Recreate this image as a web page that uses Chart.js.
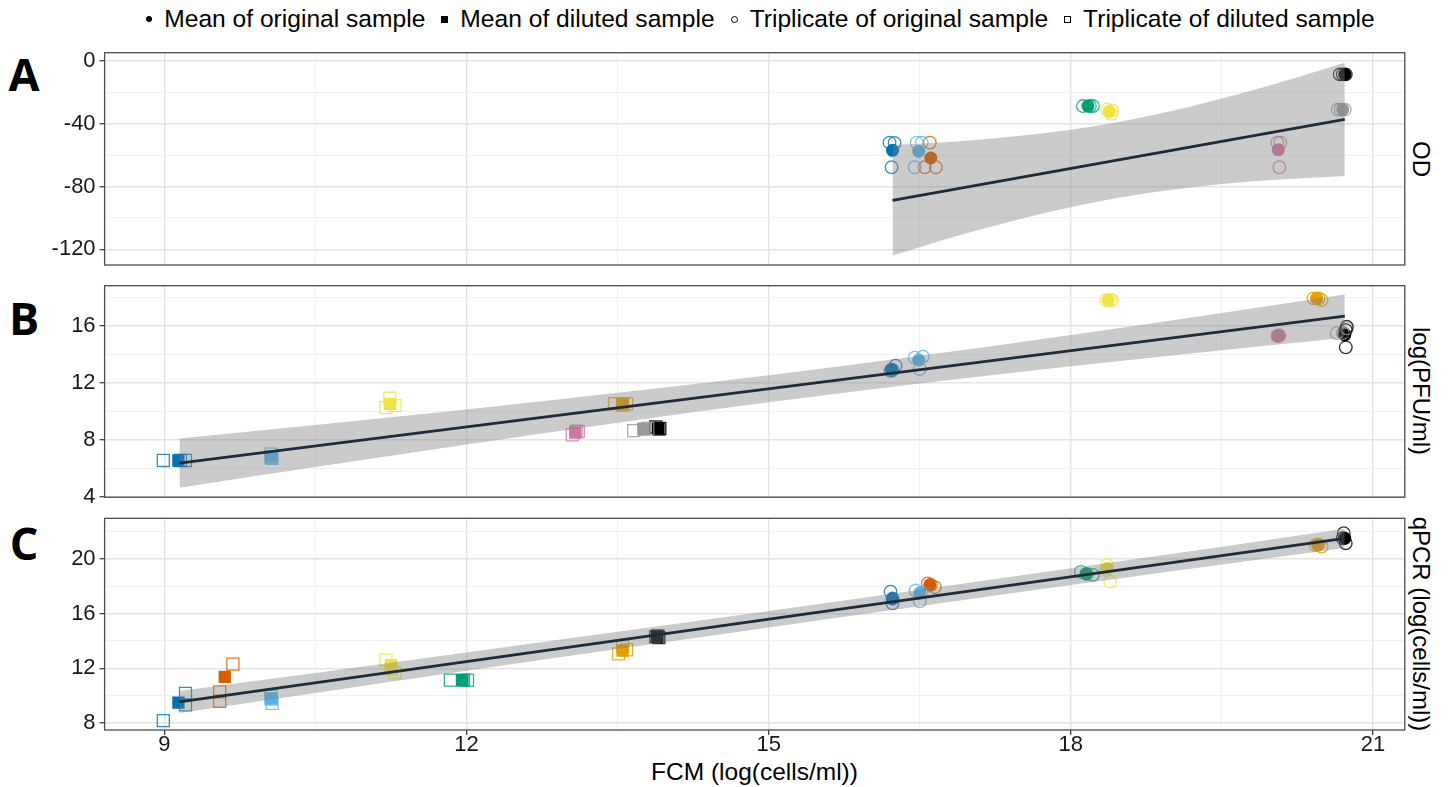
<!DOCTYPE html>
<html><head><meta charset="utf-8">
<script src="https://cdn.jsdelivr.net/npm/chart.js@4.4.1/dist/chart.umd.min.js"></script>
<style>
html,body{margin:0;padding:0;background:#fff;}
#wrap{position:relative;width:1448px;height:787px;overflow:hidden;font-family:'Liberation Sans',Arial,sans-serif;color:#000;}
canvas{position:absolute;left:0;}
#legend{position:absolute;left:0;top:4px;width:1448px;height:30px;display:flex;justify-content:center;align-items:center;font-size:24.6px;line-height:30px;white-space:nowrap;padding-left:73px;box-sizing:border-box;}
.item{display:flex;align-items:center;margin:0 8px;}
.sym{display:inline-block;box-sizing:border-box;margin-right:12px;}
.s1{width:6px;height:6px;border-radius:50%;background:#000;}
.s2{width:7px;height:7px;background:#000;}
.s3{width:7px;height:7px;border-radius:50%;border:1px solid #000;}
.s4{width:7px;height:7px;border:1px solid #000;}
.letter{position:absolute;font-family:'Open Sans','DejaVu Sans',sans-serif;font-weight:700;font-size:45px;line-height:50px;width:50px;text-align:center;}
.strip{position:absolute;font-size:24px;line-height:28px;white-space:nowrap;transform:translate(-50%,-50%) rotate(90deg);}
#xtitle{position:absolute;left:104px;width:1301px;text-align:center;top:758px;font-size:24.5px;line-height:28px;}
</style></head>
<body>
<div id="wrap">
  <div id="legend">
    <span class="item"><span class="sym s1"></span>Mean of original sample</span>
    <span class="item"><span class="sym s2"></span>Mean of diluted sample</span>
    <span class="item"><span class="sym s3"></span>Triplicate of original sample</span>
    <span class="item"><span class="sym s4"></span>Triplicate of diluted sample</span>
  </div>
  <div class="letter" style="left:-1px;top:49px;">A</div>
  <div class="letter" style="left:-1px;top:293px;">B</div>
  <div class="letter" style="left:-1px;top:518px;">C</div>
  <div class="strip" style="left:1421px;top:159px;">OD</div>
  <div class="strip" style="left:1421px;top:391px;">log(PFU/ml)</div>
  <div class="strip" style="left:1421px;top:624px;">qPCR (log(cells/ml))</div>
  <div id="xtitle">FCM (log(cells/ml))</div>
  <canvas id="cA" width="1448" height="235" style="top:40px"></canvas>
  <canvas id="cB" width="1448" height="232" style="top:275px"></canvas>
  <canvas id="cC" width="1448" height="282" style="top:505px"></canvas>
</div>
<script>
// ---------------- axis ticks ----------------
const xMajorTicks = [9, 12, 15, 18, 21];
const xMinorTicks = [10.5, 13.5, 16.5, 19.5];
const odMajorTicks = [0, -40, -80, -120];
const odMinorTicks = [-20, -60, -100];
const pfuMajorTicks = [4, 8, 12, 16];
const pfuMinorTicks = [6, 10, 14, 18];
const qMajorTicks = [8, 12, 16, 20];
const qMinorTicks = [10, 14, 18, 22];

// ---------------- Panel A : OD (original samples only) ----------------
const odOrigSamples = ['darkblue','lightblue','vermillion','green','yellow','pink','black','gray'];
const odOrigMeanX = [16.23, 16.49, 16.61, 18.17, 18.38, 20.06, 20.72, 20.70];
const odOrigMeanY = [-56.9, -57.5, -61.8, -28.7, -32.1, -56.5, -8.5, -31.0];
const odOrigTripX = [[16.20,16.25,16.22],[16.47,16.52,16.45],[16.60,16.55,16.66],[18.12,18.19,18.22],[18.36,18.40,18.41],[20.05,20.08,20.07],[20.67,20.70,20.73],[20.65,20.72,20.68]];
const odOrigTripY = [[-52.0,-52.2,-67.7],[-52.0,-52.0,-67.7],[-52.0,-67.7,-67.7],[-28.7,-28.7,-28.7],[-30.9,-33.6,-31.5],[-52.0,-52.0,-67.7],[-8.5,-8.5,-8.5],[-31.0,-31.0,-31.0]];
const odFitX = [16.23, 20.72];
const odFitY = [-88.8, -37.2];
const odBandX = [16.23, 16.75, 17.25, 17.75, 18.25, 18.75, 19.25, 19.75, 20.25, 20.72];
const odBandUpper = [-53.6, -51.8, -49.3, -45.9, -41.4, -35.3, -28.1, -19.6, -10.3, -1.1];
const odBandLower = [-124.0, -113.8, -104.9, -96.7, -89.8, -84.3, -80.1, -77.0, -74.9, -73.3];

// ---------------- Panel B : log(PFU/ml) ----------------
const pfuOrigSamples = ['darkblue','lightblue','yellow','orange','pink','black','gray'];
const pfuOrigMeanX = [16.22, 16.49, 18.37, 20.44, 20.06, 20.72, 20.71];
const pfuOrigMeanY = [12.96, 13.61, 17.82, 17.94, 15.32, 15.37, 15.56];
const pfuOrigTripX = [[16.26,16.23,16.21],[16.45,16.53,16.50],[18.35,18.39,18.41],[20.41,20.49,20.46],[20.05,20.07,20.06],[20.74,20.73,20.73],[20.64,20.74,20.70]];
const pfuOrigTripY = [[13.21,12.90,12.85],[13.78,13.85,12.98],[17.82,17.85,17.80],[17.94,17.82,17.94],[15.30,15.35,15.30],[15.95,14.50,15.70],[15.50,15.84,15.50]];
const pfuDilSamples = ['darkblue','lightblue','yellow','pink','orange','gray','black'];
const pfuDilMeanX = [9.14, 10.06, 11.24, 13.08, 13.55, 13.76, 13.90];
const pfuDilMeanY = [6.55, 6.83, 10.53, 8.51, 10.50, 8.75, 8.82];
const pfuDilTripX = [[8.99,9.21,9.16],[10.06,10.06,10.07],[11.24,11.20,11.29],[13.05,13.09,13.11],[13.47,13.59,13.55],[13.66,13.76,13.80],[13.88,13.92,13.91]];
const pfuDilTripY = [[6.55,6.55,6.55],[7.00,6.75,6.70],[10.92,10.27,10.41],[8.35,8.60,8.60],[10.55,10.55,10.45],[8.65,8.75,8.80],[8.90,8.80,8.75]];
const pfuFitX = [9.15, 20.72];
const pfuFitY = [6.36, 16.70];
const pfuBandX = [9.15, 10.5, 12, 13.5, 15, 16.5, 18, 19.5, 20.72];
const pfuBandUpper = [8.09, 9.05, 10.14, 11.30, 12.54, 13.90, 15.37, 16.92, 18.22];
const pfuBandLower = [4.63, 6.09, 7.67, 9.20, 10.64, 11.96, 13.17, 14.30, 15.18];

// ---------------- Panel C : qPCR (log(cells/ml)) ----------------
const qOrigSamples = ['darkblue','lightblue','vermillion','green','yellow','orange','black'];
const qOrigMeanX = [16.23, 16.50, 16.60, 18.15, 18.36, 20.45, 20.72];
const qOrigMeanY = [17.07, 17.49, 18.10, 18.90, 19.31, 21.01, 21.50];
const qOrigTripX = [[16.21,16.23,16.23],[16.46,16.52,16.50],[16.58,16.65,16.61],[18.10,18.22,18.16],[18.36,18.39,18.35],[20.43,20.49,20.46],[20.71,20.73,20.70]];
const qOrigTripY = [[17.60,17.10,16.75],[17.70,17.55,16.90],[18.20,17.93,18.10],[19.05,18.83,18.90],[19.55,18.34,19.20],[21.00,20.90,21.05],[21.87,21.14,21.50]];
const qDilSamples = ['darkblue','vermillion','lightblue','yellow','green','orange','black'];
const qDilMeanX = [9.14, 9.60, 10.06, 11.25, 11.96, 13.55, 13.89];
const qDilMeanY = [9.50, 11.38, 9.80, 12.23, 11.14, 13.30, 14.32];
const qDilTripX = [[9.21,9.21,8.99],[9.68,9.55,9.55],[10.06,10.06,10.07],[11.20,11.29,11.25],[11.84,11.97,12.01],[13.51,13.59,13.55],[13.88,13.90,13.91]];
const qDilTripY = [[10.18,9.33,8.18],[12.31,10.29,9.60],[9.95,9.75,9.45],[12.60,11.69,11.99],[11.14,11.14,11.14],[13.06,13.35,13.59],[14.30,14.38,14.25]];
const qFitX = [9.15, 20.72];
const qFitY = [9.55, 21.50];
const qBandX = [9.15, 10.5, 12, 13.5, 15, 16.5, 18, 19.5, 20.72];
const qBandUpper = [10.35, 11.67, 13.16, 14.67, 16.19, 17.74, 19.31, 20.89, 22.20];
const qBandLower = [8.75, 10.21, 11.82, 13.41, 14.99, 16.54, 18.08, 19.58, 20.80];

// ---------------- styling ----------------
const palette = {darkblue:'#0072B2', lightblue:'#56B4E9', vermillion:'#D55E00', green:'#009E73',
  yellow:'#F0E442', pink:'#CC79A7', orange:'#E69F00', gray:'#999999', black:'#000000'};
const GRID_MAJOR = '#e4e4e4', GRID_MINOR = '#efefef';
const BAND = 'rgba(125,125,125,0.40)';
const FITLINE = '#1d2b3b';
const X_MIN = 8.407, X_MAX = 21.316;

Chart.defaults.font.family = "'Liberation Sans', Arial, sans-serif";
Chart.defaults.color = '#1a1a1a';

function rgba(hex, a){const n=parseInt(hex.slice(1),16);return `rgba(${n>>16},${(n>>8)&255},${n&255},${a})`;}
function pts(xs, ys){return xs.map((x,i)=>({x:x, y:ys[i]}));}
function isIn(arr, v){return arr.some(a=>Math.abs(a-v)<1e-6);}

function pointSets(samples, meanX, meanY, tripX, tripY, shape){
  const sets = [];
  const rMean = shape==='circle' ? 6.5 : 8.7;
  const rOpen = shape==='circle' ? 6.3 : 8.5;
  samples.forEach((s,i)=>{
    sets.push({type:'scatter', data:[{x:meanX[i], y:meanY[i]}], pointStyle:shape, pointRadius:rMean,
      backgroundColor:palette[s], borderWidth:0, order:20});
  });
  samples.forEach((s,i)=>{
    sets.push({type:'scatter', data:pts(tripX[i], tripY[i]), pointStyle:shape, pointRadius:rOpen,
      backgroundColor:'rgba(0,0,0,0)', borderColor:rgba(palette[s],0.8), borderWidth:1.3, order:15});
  });
  return sets;
}
function fitSets(bx, bu, bl, fx, fy){
  return [
    {type:'line', data:pts(bx,bu), borderColor:'rgba(0,0,0,0)', borderWidth:0, pointRadius:0, fill:'+1', backgroundColor:BAND, cubicInterpolationMode:'monotone', order:5},
    {type:'line', data:pts(bx,bl), borderColor:'rgba(0,0,0,0)', borderWidth:0, pointRadius:0, fill:false, cubicInterpolationMode:'monotone', order:5},
    {type:'line', data:pts(fx,fy), borderColor:FITLINE, borderWidth:2.8, pointRadius:0, fill:false, order:0}
  ];
}
function gridFor(major, minor, ticksOn){
  return {
    color: c => (c.tick && isIn(major, c.tick.value)) ? GRID_MAJOR : GRID_MINOR,
    lineWidth: c => (c.tick && isIn(major, c.tick.value)) ? 1.4 : 0.9,
    tickColor: c => (c.tick && isIn(major, c.tick.value)) ? '#333333' : 'rgba(0,0,0,0)',
    tickWidth: 1.2, tickLength: 5, drawTicks: ticksOn
  };
}
const borderPlugin = {id:'panelBorder', afterDraw(chart){
  const {ctx, chartArea:{left,top,right,bottom}} = chart;
  ctx.save(); ctx.strokeStyle='#4d4d4d'; ctx.lineWidth=1.3;
  ctx.strokeRect(left, top, right-left, bottom-top); ctx.restore();
}};
function noPad(ax){ ax.paddingTop = 0; ax.paddingBottom = 0; ax.paddingLeft = 0; ax.paddingRight = 0; }

function makeChart(id, datasets, yMin, yMax, yMajor, yMinor, padTop, padBottom, showX){
  const allX = xMajorTicks.concat(xMinorTicks).sort((a,b)=>a-b);
  const allY = yMajor.concat(yMinor).sort((a,b)=>a-b);
  return new Chart(document.getElementById(id), {
    type:'scatter',
    data:{datasets:datasets},
    plugins:[borderPlugin],
    options:{
      responsive:false, animation:false, events:[], devicePixelRatio:1,
      layout:{padding:{top:padTop, bottom:padBottom, left:0, right:43.2}},
      plugins:{legend:{display:false}, tooltip:{enabled:false}},
      scales:{
        x:{type:'linear', min:X_MIN, max:X_MAX,
          afterBuildTicks: ax => { ax.ticks = allX.map(v=>({value:v})); },
          afterFit: ax => { ax.height = showX ? 57 : 0; noPad(ax); },
          grid: gridFor(xMajorTicks, xMinorTicks, showX),
          border:{display:false},
          ticks:{display:showX, padding:-3, font:{size:22}, color:'#1a1a1a', maxRotation:0, autoSkip:false,
            callback: v => isIn(xMajorTicks, v) ? String(v) : ''}
        },
        y:{type:'linear', min:yMin, max:yMax,
          afterBuildTicks: ax => { ax.ticks = allY.map(v=>({value:v})); },
          afterFit: ax => { ax.width = 104.6; noPad(ax); },
          grid: gridFor(yMajor, yMinor, true),
          border:{display:false},
          ticks:{padding:4, font:{size:22}, color:'#1a1a1a', autoSkip:false,
            callback: v => isIn(yMajor, v) ? String(v) : ''}
        }
      }
    }
  });
}

makeChart('cA',
  pointSets(odOrigSamples, odOrigMeanX, odOrigMeanY, odOrigTripX, odOrigTripY, 'circle')
    .concat(fitSets(odBandX, odBandUpper, odBandLower, odFitX, odFitY)),
  -130.0, 5.3, odMajorTicks, odMinorTicks, 12.7, 10, false);

makeChart('cB',
  pointSets(pfuDilSamples, pfuDilMeanX, pfuDilMeanY, pfuDilTripX, pfuDilTripY, 'rect')
    .concat(pointSets(pfuOrigSamples, pfuOrigMeanX, pfuOrigMeanY, pfuOrigTripX, pfuOrigTripY, 'circle'))
    .concat(fitSets(pfuBandX, pfuBandUpper, pfuBandLower, pfuFitX, pfuFitY)),
  3.97, 18.83, pfuMajorTicks, pfuMinorTicks, 10.7, 9.7, false);

makeChart('cC',
  pointSets(qDilSamples, qDilMeanX, qDilMeanY, qDilTripX, qDilTripY, 'rect')
    .concat(pointSets(qOrigSamples, qOrigMeanX, qOrigMeanY, qOrigTripX, qOrigTripY, 'circle'))
    .concat(fitSets(qBandX, qBandUpper, qBandLower, qFitX, qFitY)),
  7.5, 22.96, qMajorTicks, qMinorTicks, 13.3, 0, true);
</script>
</body></html>
